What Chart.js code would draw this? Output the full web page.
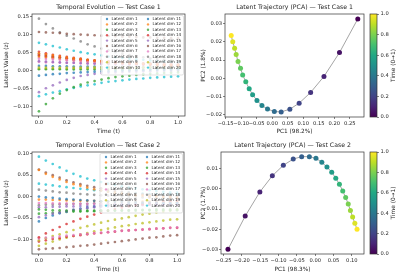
<!DOCTYPE html>
<html>
<head>
<meta charset="utf-8">
<script src="https://cdn.jsdelivr.net/npm/chart.js@4.4.0/dist/chart.umd.min.js"></script>
<style>
  body { margin: 0; background: #fff; }
  #fig { position: relative; width: 400px; height: 276px; overflow: hidden; background: #fff; }
  #fig canvas { position: absolute; }
</style>
</head>
<body>
<div id="fig">
  <canvas id="evo1" width="217" height="138" style="left:0;top:0"></canvas>
  <canvas id="evo2" width="216" height="138" style="left:0;top:138px"></canvas>
  <canvas id="pca1" width="189" height="138" style="left:200px;top:0"></canvas>
  <canvas id="pca2" width="185" height="138" style="left:200px;top:138px"></canvas>
  <canvas id="cb1" width="40" height="138" style="left:360px;top:0"></canvas>
  <canvas id="cb2" width="40" height="138" style="left:360px;top:138px"></canvas>
</div>
<script>
// time steps of the trajectory
const times = [0, 0.05, 0.1, 0.15, 0.2, 0.25, 0.3, 0.35, 0.4, 0.45, 0.5,
               0.55, 0.6, 0.65, 0.7, 0.75, 0.8, 0.85, 0.9, 0.95, 1.0];

// latent dims 1..20, test case 1
const case1Dims = [
  [-0.015,-0.013,-0.011,-0.010,-0.008,-0.007,-0.006,-0.005,-0.004,-0.003,-0.003,-0.002,-0.001,-0.001,0.000,0.000,0.001,0.001,0.001,0.002,0.002],
  [0.047,0.044,0.041,0.038,0.035,0.033,0.031,0.029,0.027,0.025,0.024,0.022,0.021,0.020,0.019,0.018,0.017,0.016,0.015,0.015,0.014],
  [-0.114,-0.094,-0.078,-0.065,-0.055,-0.047,-0.040,-0.034,-0.030,-0.026,-0.022,-0.019,-0.017,-0.015,-0.013,-0.011,-0.010,-0.009,-0.008,-0.007,-0.006],
  [0.051,0.047,0.043,0.040,0.037,0.034,0.032,0.029,0.027,0.025,0.023,0.022,0.020,0.019,0.018,0.017,0.016,0.015,0.014,0.013,0.013],
  [-0.061,-0.050,-0.042,-0.034,-0.027,-0.021,-0.016,-0.013,-0.010,-0.008,-0.007,-0.006,-0.005,-0.004,-0.004,-0.003,-0.003,-0.002,-0.002,-0.002,-0.001],
  [0.106,0.105,0.104,0.103,0.101,0.100,0.099,0.098,0.097,0.096,0.095,0.094,0.093,0.093,0.092,0.091,0.091,0.090,0.090,0.089,0.089],
  [0.032,0.031,0.030,0.029,0.028,0.027,0.026,0.025,0.024,0.023,0.022,0.021,0.020,0.019,0.019,0.018,0.017,0.017,0.016,0.016,0.015],
  [0.143,0.128,0.116,0.105,0.096,0.088,0.080,0.072,0.066,0.060,0.055,0.050,0.046,0.042,0.039,0.036,0.033,0.031,0.029,0.027,0.025],
  [0.007,0.007,0.007,0.007,0.007,0.007,0.007,0.007,0.008,0.008,0.008,0.008,0.008,0.008,0.008,0.008,0.009,0.009,0.009,0.009,0.009],
  [0.076,0.072,0.067,0.063,0.058,0.054,0.050,0.047,0.044,0.041,0.038,0.036,0.034,0.032,0.030,0.029,0.027,0.026,0.025,0.024,0.023],
  [0.012,0.012,0.011,0.011,0.011,0.010,0.010,0.010,0.010,0.009,0.009,0.009,0.009,0.009,0.008,0.008,0.008,0.008,0.008,0.008,0.008],
  [0.037,0.035,0.033,0.031,0.029,0.028,0.026,0.025,0.024,0.022,0.021,0.020,0.019,0.019,0.018,0.017,0.017,0.016,0.016,0.015,0.015],
  [0.003,0.003,0.003,0.003,0.002,0.002,0.002,0.002,0.002,0.002,0.002,0.002,0.001,0.001,0.001,0.001,0.001,0.001,0.001,0.001,0.001],
  [0.042,0.040,0.037,0.035,0.033,0.031,0.029,0.027,0.026,0.024,0.023,0.022,0.021,0.020,0.019,0.018,0.017,0.017,0.016,0.016,0.015],
  [0.025,0.024,0.023,0.022,0.021,0.021,0.020,0.019,0.019,0.018,0.018,0.017,0.017,0.016,0.016,0.016,0.015,0.015,0.015,0.014,0.014],
  [0.040,0.038,0.036,0.034,0.032,0.030,0.029,0.027,0.026,0.025,0.024,0.023,0.022,0.021,0.020,0.019,0.019,0.018,0.018,0.017,0.017],
  [0.023,0.022,0.022,0.021,0.020,0.020,0.019,0.019,0.018,0.018,0.017,0.017,0.016,0.016,0.016,0.015,0.015,0.015,0.014,0.014,0.014],
  [0.045,0.042,0.039,0.036,0.034,0.032,0.030,0.028,0.026,0.024,0.023,0.022,0.020,0.019,0.018,0.017,0.017,0.016,0.015,0.015,0.014],
  [0.004,0.004,0.004,0.004,0.004,0.005,0.005,0.005,0.005,0.005,0.005,0.005,0.005,0.005,0.006,0.006,0.006,0.006,0.006,0.006,0.006],
  [-0.072,-0.067,-0.062,-0.058,-0.053,-0.049,-0.045,-0.042,-0.039,-0.035,-0.032,-0.030,-0.028,-0.026,-0.024,-0.023,-0.021,-0.020,-0.019,-0.018,-0.017]
];

// latent dims 1..20, test case 2
const case2Dims = [
  [0.000,-0.002,-0.003,-0.005,-0.006,-0.007,-0.008,-0.009,-0.010,-0.011,-0.011,-0.012,-0.012,-0.013,-0.013,-0.014,-0.014,-0.014,-0.015,-0.015,-0.015],
  [0.062,0.053,0.046,0.040,0.034,0.029,0.025,0.021,0.017,0.014,0.011,0.009,0.007,0.005,0.003,0.002,0.001,0.000,-0.001,-0.002,-0.003],
  [-0.030,-0.031,-0.032,-0.032,-0.033,-0.033,-0.033,-0.033,-0.033,-0.033,-0.033,-0.033,-0.033,-0.033,-0.033,-0.032,-0.032,-0.032,-0.032,-0.032,-0.032],
  [-0.095,-0.086,-0.078,-0.071,-0.064,-0.058,-0.052,-0.047,-0.042,-0.037,-0.033,-0.029,-0.026,-0.023,-0.020,-0.018,-0.016,-0.014,-0.012,-0.011,-0.010],
  [-0.048,-0.044,-0.040,-0.037,-0.034,-0.031,-0.029,-0.027,-0.025,-0.024,-0.023,-0.022,-0.021,-0.020,-0.020,-0.019,-0.019,-0.018,-0.018,-0.018,-0.017],
  [0.063,0.056,0.050,0.044,0.038,0.033,0.029,0.025,0.022,0.019,0.016,0.013,0.011,0.009,0.007,0.005,0.004,0.003,0.002,0.001,0.000],
  [-0.098,-0.096,-0.095,-0.093,-0.091,-0.090,-0.088,-0.087,-0.085,-0.084,-0.083,-0.081,-0.080,-0.079,-0.078,-0.077,-0.076,-0.075,-0.074,-0.073,-0.072],
  [0.016,0.014,0.012,0.010,0.009,0.007,0.006,0.005,0.004,0.003,0.002,0.001,0.000,-0.001,-0.001,-0.002,-0.002,-0.003,-0.003,-0.003,-0.004],
  [-0.102,-0.097,-0.092,-0.088,-0.083,-0.078,-0.073,-0.069,-0.065,-0.061,-0.057,-0.054,-0.051,-0.048,-0.045,-0.042,-0.040,-0.037,-0.035,-0.033,-0.031],
  [0.093,0.084,0.076,0.068,0.060,0.053,0.047,0.042,0.038,0.034,0.030,0.027,0.024,0.021,0.019,0.017,0.015,0.013,0.011,0.010,0.009],
  [-0.058,-0.050,-0.044,-0.039,-0.035,-0.031,-0.028,-0.026,-0.024,-0.022,-0.021,-0.020,-0.019,-0.018,-0.018,-0.017,-0.017,-0.016,-0.016,-0.016,-0.015],
  [-0.007,-0.007,-0.008,-0.008,-0.009,-0.009,-0.010,-0.010,-0.010,-0.011,-0.011,-0.011,-0.012,-0.012,-0.012,-0.012,-0.012,-0.013,-0.013,-0.013,-0.013],
  [-0.040,-0.039,-0.038,-0.037,-0.036,-0.035,-0.035,-0.034,-0.034,-0.033,-0.033,-0.032,-0.032,-0.032,-0.031,-0.031,-0.031,-0.030,-0.030,-0.030,-0.030],
  [-0.105,-0.102,-0.099,-0.097,-0.094,-0.092,-0.090,-0.088,-0.086,-0.085,-0.083,-0.082,-0.080,-0.079,-0.078,-0.077,-0.076,-0.075,-0.074,-0.073,-0.073],
  [-0.025,-0.025,-0.024,-0.024,-0.023,-0.023,-0.022,-0.022,-0.022,-0.021,-0.021,-0.021,-0.020,-0.020,-0.020,-0.020,-0.019,-0.019,-0.019,-0.019,-0.019],
  [-0.123,-0.122,-0.121,-0.120,-0.118,-0.117,-0.115,-0.114,-0.112,-0.110,-0.108,-0.106,-0.104,-0.102,-0.100,-0.098,-0.096,-0.095,-0.093,-0.091,-0.090],
  [-0.015,-0.015,-0.016,-0.016,-0.016,-0.017,-0.017,-0.017,-0.017,-0.018,-0.018,-0.018,-0.018,-0.018,-0.018,-0.019,-0.019,-0.019,-0.019,-0.019,-0.019],
  [-0.020,-0.019,-0.019,-0.018,-0.018,-0.017,-0.017,-0.017,-0.016,-0.016,-0.016,-0.016,-0.015,-0.015,-0.015,-0.015,-0.015,-0.015,-0.014,-0.014,-0.014],
  [-0.115,-0.110,-0.105,-0.100,-0.096,-0.092,-0.088,-0.085,-0.081,-0.078,-0.075,-0.072,-0.069,-0.067,-0.064,-0.062,-0.060,-0.058,-0.056,-0.054,-0.053],
  [0.030,0.028,0.026,0.024,0.022,0.020,0.018,0.017,0.015,0.014,0.012,0.011,0.010,0.009,0.008,0.007,0.006,0.006,0.005,0.005,0.004]
];

// PCA projections of the trajectories
const case1Pc1 = [0.276,0.217,0.167,0.124,0.087,0.057,0.029,0.007,-0.015,-0.033,-0.049,-0.063,-0.074,-0.085,-0.095,-0.102,-0.110,-0.116,-0.121,-0.127,-0.132];
const case1Pc2 = [0.0326,0.0141,0.0010,-0.0078,-0.0137,-0.0170,-0.0185,-0.0183,-0.0169,-0.0150,-0.0122,-0.0091,-0.0058,-0.0019,0.0018,0.0055,0.0092,0.0130,0.0165,0.0200,0.0235];
const case2Pc1 = [-0.238,-0.191,-0.151,-0.117,-0.087,-0.060,-0.037,-0.016,0.002,0.018,0.032,0.045,0.056,0.066,0.075,0.083,0.090,0.096,0.102,0.108,0.114];
const case2Pc2 = [-0.0300,-0.0135,-0.0015,0.0065,0.0117,0.0148,0.0160,0.0160,0.0152,0.0132,0.0108,0.0083,0.0053,0.0023,-0.0010,-0.0043,-0.0075,-0.0107,-0.0140,-0.0170,-0.0200];

const pcVariance1 = ['98.2%', '1.8%'];
const pcVariance2 = ['98.3%', '1.7%'];

const dimColors = ['#1f77b4', '#ff7f0e', '#2ca02c', '#d62728', '#9467bd',
                   '#8c564b', '#e377c2', '#7f7f7f', '#bcbd22', '#17becf'];
const viridisStops = ['#440154', '#482475', '#414487', '#355f8d', '#2a788e', '#21918c',
                      '#22a884', '#44bf70', '#7ad151', '#bddf26', '#fde725'];

const FONT = "'DejaVu Sans', sans-serif";
const INK = '#262626';
Chart.defaults.font.family = FONT;
Chart.defaults.color = INK;

function hexRgb(hex) {
    const n = parseInt(hex.slice(1), 16);
    return [(n >> 16) & 255, (n >> 8) & 255, n & 255];
}
function rgba(hex, a) {
    const [r, g, b] = hexRgb(hex);
    return `rgba(${r},${g},${b},${a})`;
}
function viridis(t) {
    const p = Math.min(Math.max(t, 0), 1) * (viridisStops.length - 1);
    const i = Math.min(Math.floor(p), viridisStops.length - 2);
    const f = p - i;
    const a = hexRgb(viridisStops[i]), b = hexRgb(viridisStops[i + 1]);
    return `rgb(${a.map((v, k) => Math.round(v + (b[k] - v) * f)).join(',')})`;
}
// matplotlib-like tick text, with a real minus sign
function fmt(dec) {
    return function(v) {
        if (Math.abs(v) < 1e-9) v = 0;
        return (v < 0 ? '\u2212' : '') + Math.abs(v).toFixed(dec);
    };
}

// box around the axes
const frame = {
    id: 'frame',
    afterDatasetsDraw(chart) {
        const { ctx, chartArea: a } = chart;
        ctx.save();
        ctx.strokeStyle = '#333';
        ctx.lineWidth = 0.7;
        ctx.strokeRect(a.left, a.top, a.right - a.left, a.bottom - a.top);
        ctx.restore();
    }
};

// title centred over the axes, like matplotlib
const axTitle = {
    id: 'axTitle',
    afterDraw(chart, args, opts) {
        const { ctx, chartArea: a } = chart;
        ctx.save();
        ctx.font = `6.2px ${FONT}`;
        ctx.fillStyle = INK;
        ctx.textAlign = 'center';
        ctx.textBaseline = 'middle';
        ctx.fillText(opts.text, (a.left + a.right) / 2, 7);
        ctx.restore();
    }
};

// two column legend in the upper right corner
const dimLegend = {
    id: 'dimLegend',
    afterDatasetsDraw(chart) {
        const { ctx, chartArea: a } = chart;
        const x0 = a.right - 84, y0 = a.top + 1.5, w = 82.5, h = 59.5;
        ctx.save();
        ctx.fillStyle = 'rgba(255,255,255,0.8)';
        ctx.strokeStyle = '#d0d0d0';
        ctx.lineWidth = 0.6;
        ctx.beginPath();
        if (ctx.roundRect) ctx.roundRect(x0, y0, w, h, 1.5); else ctx.rect(x0, y0, w, h);
        ctx.fill();
        ctx.stroke();
        ctx.font = `4.1px ${FONT}`;
        ctx.textBaseline = 'middle';
        chart.data.datasets.forEach((ds, i) => {
            const col = Math.floor(i / 10), row = i % 10;
            const y = y0 + 3.5 + row * 5.4;
            const mx = x0 + 6 + col * 41;
            ctx.fillStyle = ds.backgroundColor;
            ctx.beginPath();
            ctx.arc(mx, y, 1.2, 0, Math.PI * 2);
            ctx.fill();
            ctx.fillStyle = INK;
            ctx.fillText(ds.label, mx + 4.5, y);
        });
        ctx.restore();
    }
};

function xAxis(min, max, step, dec, title, height) {
    return {
        type: 'linear', min: min, max: max,
        afterFit: function(s) { s.height = height; },
        border: { display: false },
        grid: { drawOnChartArea: false, drawTicks: true, tickLength: 2, color: '#333', lineWidth: 0.6 },
        ticks: { stepSize: step, includeBounds: false, autoSkip: false, maxRotation: 0, minRotation: 0,
                 padding: 1.5, font: { size: 5.2 }, color: INK, callback: fmt(dec) },
        title: { display: true, text: title, font: { size: 5.8 }, color: INK, padding: { top: 0, bottom: 3.5 } }
    };
}
function yAxis(min, max, step, dec, title, width, titlePad) {
    return {
        type: 'linear', min: min, max: max,
        afterFit: function(s) { s.width = width; },
        border: { display: false },
        grid: { drawOnChartArea: false, drawTicks: true, tickLength: 2, color: '#333', lineWidth: 0.6 },
        ticks: { stepSize: step, includeBounds: false, autoSkip: false, padding: 1, font: { size: 5.2 },
                 color: INK, callback: fmt(dec) },
        title: { display: true, text: title, font: { size: 5.8 }, color: INK, padding: { top: titlePad, bottom: 0 } }
    };
}

function evoChart(id, dims, caseNo, yMin, yMax, rightPad) {
    return new Chart(document.getElementById(id), {
        type: 'scatter',
        data: {
            datasets: dims.map((vals, i) => ({
                label: 'Latent dim ' + (i + 1),
                data: times.map((t, j) => ({ x: t, y: vals[j] })),
                backgroundColor: rgba(dimColors[i % 10], 0.75),
                borderWidth: 0,
                pointRadius: 1.35,
                pointHoverRadius: 1.35
            }))
        },
        options: {
            responsive: false,
            animation: false,
            events: [],
            layout: { padding: { top: 14, right: rightPad, left: 0, bottom: 0 } },
            plugins: {
                legend: { display: false },
                tooltip: { enabled: false },
                axTitle: { text: 'Temporal Evolution \u2014 Test Case ' + caseNo }
            },
            scales: {
                x: xAxis(-0.05, 1.05, 0.2, 1, 'Time (t)', 22),
                y: yAxis(yMin, yMax, 0.05, 2, 'Latent Value (z)', 32, 3.2)
            }
        },
        plugins: [frame, dimLegend, axTitle]
    });
}

function pcaChart(id, pc1, pc2, variance, caseNo, xr, yr, yWidth, xHeight) {
    return new Chart(document.getElementById(id), {
        type: 'scatter',
        data: {
            datasets: [{
                data: pc1.map((x, i) => ({ x: x, y: pc2[i] })),
                showLine: true,
                borderColor: 'rgba(0,0,0,0.45)',
                borderWidth: 0.8,
                pointBackgroundColor: times.map(viridis),
                pointBorderWidth: 0,
                pointRadius: 2.5,
                pointHoverRadius: 2.5
            }]
        },
        options: {
            responsive: false,
            animation: false,
            events: [],
            layout: { padding: { top: 14, right: yWidth, left: 0, bottom: 0 } },
            plugins: {
                legend: { display: false },
                tooltip: { enabled: false },
                axTitle: { text: 'Latent Trajectory (PCA) \u2014 Test Case ' + caseNo }
            },
            scales: {
                x: xAxis(xr[0], xr[1], 0.05, 2, 'PC1 (' + variance[0] + ')', xHeight),
                y: yAxis(yr[0], yr[1], 0.01, 2, 'PC2 (' + variance[1] + ')', yWidth, 0)
            }
        },
        plugins: [frame, axTitle]
    });
}

// viridis colour bar for time
const cbFill = {
    id: 'cbFill',
    beforeDatasetsDraw(chart) {
        const { ctx, chartArea: a } = chart;
        const g = ctx.createLinearGradient(0, a.bottom, 0, a.top);
        viridisStops.forEach((c, i) => g.addColorStop(i / (viridisStops.length - 1), c));
        ctx.save();
        ctx.fillStyle = g;
        ctx.fillRect(a.left, a.top, a.right - a.left, a.bottom - a.top);
        ctx.restore();
    },
    afterDraw(chart) {
        const { ctx, chartArea: a } = chart;
        ctx.save();
        ctx.font = `5.8px ${FONT}`;
        ctx.fillStyle = INK;
        ctx.textAlign = 'center';
        ctx.textBaseline = 'middle';
        ctx.translate(33, (a.top + a.bottom) / 2);
        ctx.rotate(-Math.PI / 2);
        ctx.fillText('Time (0\u21921)', 0, 0);
        ctx.restore();
    }
};

function colorBar(id, bottomPad) {
    return new Chart(document.getElementById(id), {
        type: 'scatter',
        data: { datasets: [] },
        options: {
            responsive: false,
            animation: false,
            events: [],
            layout: { padding: { top: 14, right: 0, left: 10, bottom: bottomPad } },
            plugins: { legend: { display: false }, tooltip: { enabled: false } },
            scales: {
                x: { display: false, min: 0, max: 1 },
                y: {
                    position: 'right', min: 0, max: 1,
                    afterFit: function(s) { s.width = 23; },
                    border: { display: false },
                    grid: { drawOnChartArea: false, drawTicks: true, tickLength: 2, color: '#333', lineWidth: 0.6 },
                    ticks: { stepSize: 0.2, padding: 1.5, font: { size: 5.2 }, color: INK, callback: fmt(1) }
                }
            }
        },
        plugins: [cbFill, frame]
    });
}

evoChart('evo1', case1Dims, 1, -0.127, 0.156, 32);
evoChart('evo2', case2Dims, 2, -0.134, 0.104, 32);
pcaChart('pca1', case1Pc1, case1Pc2, pcVariance1, 1, [-0.152, 0.296], [-0.0213, 0.0353], 25, 21);
pcaChart('pca2', case2Pc1, case2Pc2, pcVariance2, 2, [-0.257, 0.133], [-0.0323, 0.0183], 21, 22);
colorBar('cb1', 21);
colorBar('cb2', 22);
</script>
</body>
</html>
